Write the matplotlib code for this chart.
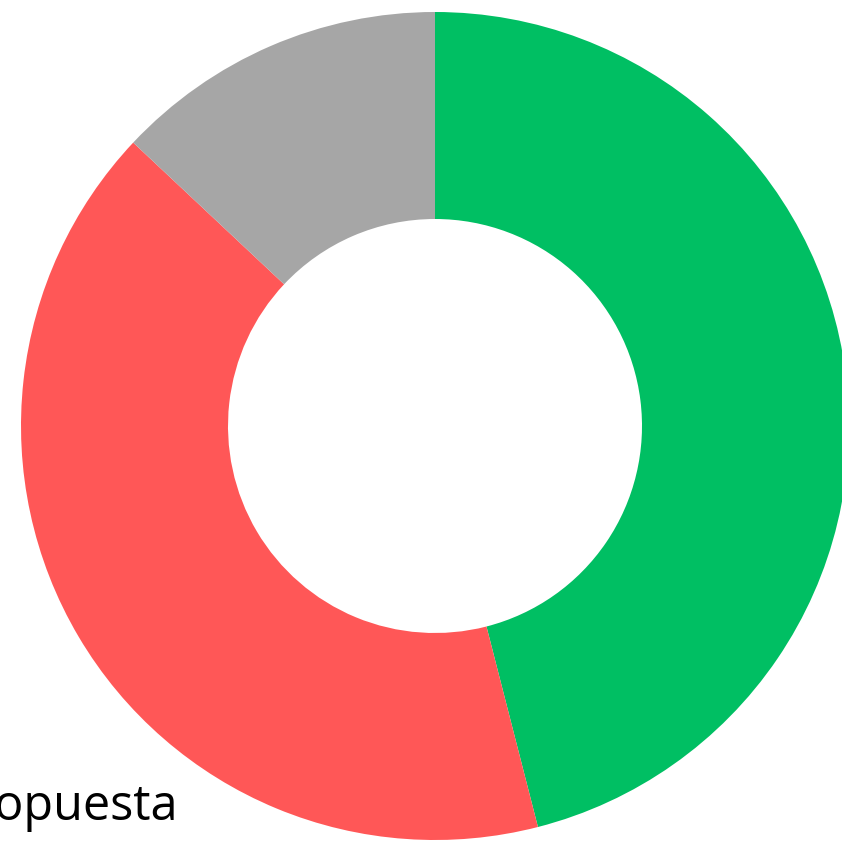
import matplotlib
matplotlib.use("Agg")
import matplotlib.pyplot as plt

# share of answers, clockwise from 12 o'clock
labels = ["Sí", "No", "Propuesta"]
values = [46, 41, 13]
colors = ["#00BF63", "#FF5757", "#A6A6A6"]

W, H = 842, 841
fig = plt.figure(figsize=(W / 100, H / 100), dpi=100)
ax = fig.add_axes([0, 0, 1, 1])

ax.pie(values, colors=colors, startangle=90, counterclock=False,
       radius=414, center=(435, H - 426),
       wedgeprops=dict(width=207, linewidth=0))

# label of the last slice, mostly outside the canvas on the left
ax.text(178, H - 820, labels[2], ha="right", va="baseline",
        fontsize=35, family=["Open Sans", "DejaVu Sans"], color="black")

ax.set_xlim(0, W)
ax.set_ylim(0, H)
ax.set_aspect("equal")
ax.axis("off")

fig.savefig("out.png", dpi=100)
